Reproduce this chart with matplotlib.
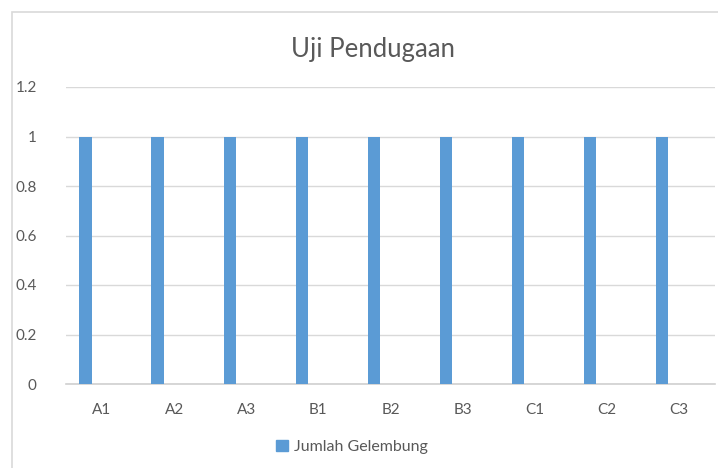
import matplotlib.pyplot as plt
import matplotlib.patches as mpatches
import numpy as np

categories = ['A1', 'A2', 'A3', 'B1', 'B2', 'B3', 'C1', 'C2', 'C3']
jumlah_gelembung = [1, 1, 1, 1, 1, 1, 1, 1, 1]
yticks = [0, 0.2, 0.4, 0.6, 0.8, 1, 1.2]
ytick_labels = ['0', '0.2', '0.4', '0.6', '0.8', '1', '1.2']

plt.rcParams['font.family'] = ['Lato', 'DejaVu Sans']

W, H = 718, 468
fig = plt.figure(figsize=(W / 100, H / 100), dpi=100)

# chart border (cut off at right and bottom)
fig.patches.append(mpatches.Rectangle((12 / W, -0.1), 1.2, (H - 12) / H + 0.1,
                                      transform=fig.transFigure, fill=False,
                                      edgecolor='#d9d9d9', linewidth=1.2))

ax = fig.add_axes([66 / W, (H - 384) / H, (715 - 66) / W, (384 - 87) / H])
x = np.arange(len(categories))
ax.bar(x - 0.23, jumlah_gelembung, width=0.17, color='#5B9BD5', zorder=3)

ax.set_xlim(-0.5, len(categories) - 0.5)
ax.set_ylim(0, 1.2)
ax.set_yticks(yticks)
ax.set_yticklabels(ytick_labels)
ax.set_xticks(x)
ax.set_xticklabels(categories)
ax.yaxis.grid(True, color='#d9d9d9', linewidth=1, zorder=0)
for s in ['top', 'right', 'left']:
    ax.spines[s].set_visible(False)
ax.spines['bottom'].set_color('#d0d0d0')
ax.spines['bottom'].set_linewidth(1.2)
ax.tick_params(length=0, colors='#595959', labelsize=11)
ax.tick_params(axis='y', pad=21)
ax.tick_params(axis='x', pad=14)
for lbl in ax.get_yticklabels():
    lbl.set_horizontalalignment('right')

fig.text(373 / W, 1 - 50 / H, 'Uji Pendugaan', ha='center', va='center',
         fontsize=18.5, color='#595959')

handle = mpatches.Patch(color='#5B9BD5', label='Jumlah Gelembung')
fig.legend(handles=[handle], loc='center', bbox_to_anchor=(352 / W, 1 - 447 / H),
           frameon=False, fontsize=11.5, labelcolor='#595959',
           handlelength=0.75, handleheight=0.75, handletextpad=0.35)

fig.savefig('out.png', dpi=100)
